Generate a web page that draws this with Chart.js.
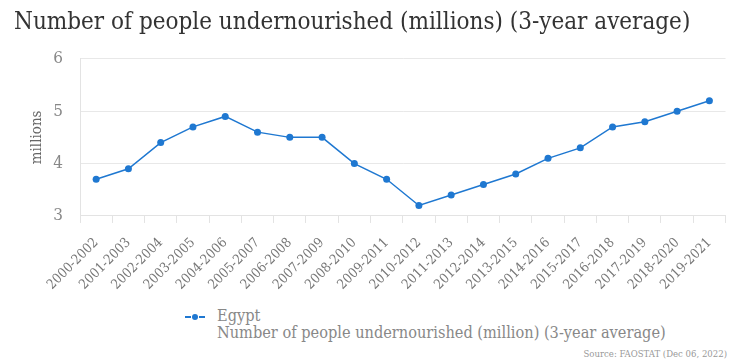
<!DOCTYPE html>
<html>
<head>
<meta charset="utf-8">
<script src="https://cdn.jsdelivr.net/npm/chart.js@4"></script>
<style>
  body { margin: 0; background: #fff; }
  #wrap { position: relative; width: 733px; height: 362px; }
  #box { position: absolute; left: 0; top: 0; width: 733px; height: 305px; }
  #legend { position: absolute; left: 185px; top: 307px; font-family: "DejaVu Serif Condensed", "DejaVu Serif", serif; font-size: 16.2px; color: #888; line-height: 17px; }
  #legend .mark { display: inline-block; position: relative; width: 20px; height: 10px; margin-right: 12px; vertical-align: middle; }
  #legend .mark i { position: absolute; left: 0; top: 4px; width: 20px; height: 2px; background: linear-gradient(to right, #1f78d1 0 6px, transparent 6px 14px, #1f78d1 14px 20px); }
  #legend .mark b { position: absolute; left: 7px; top: 2px; width: 6px; height: 6px; border-radius: 50%; background: #1f78d1; }
  #legend .sub { padding-left: 32px; }
  #source { position: absolute; right: 6px; top: 348px; font-family: "DejaVu Serif Condensed", "DejaVu Serif", serif; font-size: 9.5px; color: #999; }
</style>
</head>
<body>
<div id="wrap">
  <div id="box"><canvas id="chart"></canvas></div>
  <div id="legend">
    <div><span class="mark"><i></i><b></b></span>Egypt</div>
    <div class="sub">Number of people undernourished (million) (3-year average)</div>
  </div>
  <div id="source">Source: FAOSTAT (Dec 06, 2022)</div>
</div>
<script>
// Data
const periods = ['2000-2002', '2001-2003', '2002-2004', '2003-2005', '2004-2006', '2005-2007', '2006-2008',
  '2007-2009', '2008-2010', '2009-2011', '2010-2012', '2011-2013', '2012-2014', '2013-2015', '2014-2016',
  '2015-2017', '2016-2018', '2017-2019', '2018-2020', '2019-2021'];
const egypt = [3.7, 3.9, 4.4, 4.7, 4.9, 4.6, 4.5, 4.5, 4.0, 3.7, 3.2, 3.4, 3.6, 3.8, 4.1, 4.3, 4.7, 4.8, 5.0, 5.2];
const yTicks = [3, 4, 5, 6];

const blue = '#1f78d1';
const serif = "'DejaVu Serif Condensed', 'DejaVu Serif', serif";

const ctx = document.getElementById('chart').getContext('2d');
const chart = new Chart(ctx, {
    type: 'line',
    data: {
        labels: periods,
        datasets: [{
            label: 'Egypt',
            data: egypt,
            borderColor: blue,
            backgroundColor: blue,
            borderWidth: 1.5,
            pointRadius: 3.5,
            pointBorderWidth: 0,
            tension: 0
        }]
    },
    options: {
        responsive: true,
        maintainAspectRatio: false,
        animation: false,
        layout: { padding: { left: 14, right: 6, top: 0, bottom: 0 } },
        plugins: {
            legend: { display: false },
            tooltip: { enabled: false },
            title: {
                display: true,
                text: 'Number of people undernourished (millions) (3-year average)',
                align: 'start',
                color: '#333',
                font: { family: serif, size: 24, weight: 'normal' },
                padding: { top: 8, bottom: 22 }
            }
        },
        scales: {
            x: {
                offset: true,
                grid: { display: true, drawOnChartArea: false, drawTicks: true, tickLength: 7, color: '#e3e3e3', offset: true },
                border: { color: '#e3e3e3' },
                ticks: {
                    autoSkip: false,
                    minRotation: 45,
                    maxRotation: 45,
                    color: '#777',
                    font: { family: serif, size: 13.5 },
                    padding: 12
                }
            },
            y: {
                min: 3,
                max: 6,
                afterBuildTicks: axis => { axis.ticks = yTicks.map(v => ({ value: v })); },
                afterFit: axis => { axis.width = 66; },
                grid: { color: '#e8e8e8', drawTicks: false },
                border: { color: '#e3e3e3' },
                title: {
                    display: true,
                    text: 'millions',
                    color: '#666',
                    font: { family: serif, size: 15 },
                    padding: { top: 14, bottom: 0 }
                },
                ticks: {
                    color: '#888',
                    font: { family: serif, size: 17 },
                    padding: 17
                }
            }
        }
    }
});
</script>
</body>
</html>
